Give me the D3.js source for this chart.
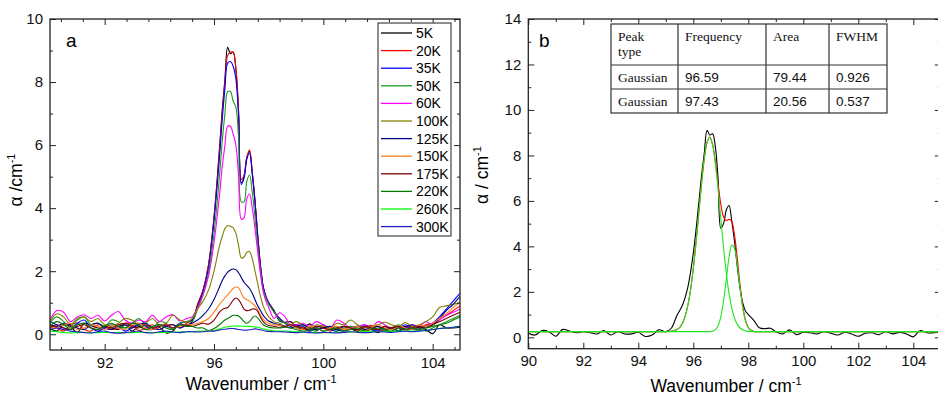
<!DOCTYPE html>
<html>
<head>
<meta charset="utf-8">
<script src="https://cdn.jsdelivr.net/npm/d3@7"></script>
<style>
	body { margin: 0; background: #fff; }
	text { font-family: "Liberation Sans", Arial, sans-serif; }
	.serif { font-family: "Liberation Serif", "Times New Roman", serif; }
</style>
</head>
<body>
<div class="graph"></div>
<script>

// shared wavenumber grid (cm-1) for the temperature series
const wavenumber = [90,90.25,90.5,90.75,91,91.25,91.5,91.75,92,92.25,92.5,92.75,93,93.25,93.5,93.75,94,94.25,94.5,94.75,95,
	95.2,95.4,95.6,95.8,96,96.2,96.3,96.4,96.5,96.6,96.7,96.8,96.9,97,97.1,97.2,97.3,97.4,97.5,97.6,97.7,97.8,97.9,98,98.2,
	98.4,98.6,98.8,99,99.25,99.5,99.75,100,100.25,100.5,100.75,101,101.25,101.5,101.75,102,102.25,102.5,102.75,103,103.25,103.5,103.75,104,104.25,104.5,104.75,105];

const alpha5K = [0.18,0.1,0.3,0.25,0.05,0.35,0.28,0.2,0.25,0.2,0.15,0.3,0.1,0.25,0.15,0.15,0.22,0.04,0.1,0.33,0.25,
	0.4,0.95,1.4,2.2,3.7,5.9,7.1,8.1,9.1,8.9,8.95,8.4,7.0,4.8,5.0,5.6,5.8,5.1,4.2,3.1,2.15,1.5,1.15,1.0,0.75,
	0.42,0.38,0.4,0.25,0.15,0.33,0.12,0.22,0.2,0.15,0.25,0.18,0.1,0.22,0.15,0.05,0.18,0.2,0.12,0.25,0.15,0.22,0.15,0.02,0.3,0.2,0.2,0.22];
const alpha20K = [0.3,0.2,0.1,0.3,0.35,0.15,0.1,0.3,0.25,0.15,0.2,0.35,0.3,0.12,0.2,0.3,0.15,0.28,0.3,0.2,0.35,
	0.45,0.9,1.4,2.2,3.7,5.8,7.0,8.0,8.85,8.95,8.95,8.45,7.1,4.9,5.05,5.6,5.85,5.15,4.25,3.15,2.2,1.5,1.2,1.0,0.7,
	0.5,0.35,0.3,0.3,0.2,0.1,0.25,0.2,0.1,0.2,0.15,0.25,0.1,0.2,0.28,0.15,0.12,0.22,0.2,0.15,0.25,0.2,0.3,0.35,0.5,0.6,0.75,0.9];
const alpha35K = [0.4,0.3,0.2,0.15,0.35,0.45,0.2,0.1,0.2,0.3,0.25,0.1,0.2,0.35,0.25,0.15,0.3,0.25,0.2,0.35,0.4,
	0.45,0.85,1.35,2.1,3.6,5.6,6.8,7.8,8.6,8.65,8.5,8.1,6.9,4.75,4.95,5.55,5.75,5.1,4.2,3.1,2.15,1.5,1.2,1.0,0.7,
	0.5,0.35,0.25,0.3,0.25,0.1,0.2,0.3,0.15,0.1,0.25,0.2,0.15,0.3,0.2,0.1,0.25,0.15,0.2,0.3,0.2,0.15,0.25,0.35,0.55,0.8,1.05,1.3];
const alpha50K = [0.35,0.55,0.4,0.2,0.45,0.55,0.3,0.35,0.25,0.45,0.4,0.2,0.35,0.5,0.3,0.2,0.4,0.35,0.15,0.35,0.4,
	0.4,0.8,1.25,1.95,3.2,5.0,6.1,7.0,7.7,7.7,7.4,7.2,6.2,4.2,4.2,4.85,5.05,4.5,3.7,2.8,2.0,1.4,1.15,0.95,0.7,
	0.45,0.35,0.3,0.2,0.3,0.15,0.1,0.25,0.2,0.1,0.2,0.25,0.15,0.1,0.2,0.25,0.1,0.2,0.3,0.15,0.2,0.25,0.1,0.2,0.3,0.4,0.5,0.6];
const alpha60K = [0.45,0.75,0.7,0.4,0.55,0.62,0.5,0.6,0.42,0.6,0.72,0.45,0.35,0.45,0.4,0.6,0.4,0.55,0.62,0.42,0.5,
	0.55,0.85,1.25,1.85,2.9,4.4,5.3,6.0,6.6,6.6,6.35,6.0,5.0,3.65,3.7,4.3,4.45,4.0,3.35,2.6,1.9,1.35,1.05,0.85,0.5,
	0.68,0.55,0.3,0.3,0.35,0.25,0.4,0.3,0.2,0.45,0.35,0.2,0.25,0.3,0.2,0.4,0.3,0.15,0.25,0.2,0.3,0.25,0.4,0.3,0.45,0.6,0.7,0.8];
const alpha100K = [0.4,0.65,0.55,0.3,0.5,0.55,0.4,0.5,0.3,0.25,0.35,0.5,0.45,0.3,0.35,0.5,0.3,0.35,0.6,0.45,0.4,
	0.5,0.8,1.05,1.4,2.0,2.8,3.1,3.35,3.45,3.42,3.38,3.2,2.8,2.42,2.45,2.6,2.62,2.4,2.0,1.6,1.2,0.9,0.7,0.55,0.4,
	0.35,0.25,0.3,0.4,0.3,0.2,0.3,0.25,0.2,0.35,0.3,0.45,0.3,0.2,0.25,0.3,0.38,0.3,0.25,0.37,0.25,0.3,0.4,0.55,0.85,0.9,0.95,1.0];
const alpha125K = [0.3,0.25,0.35,0.3,0.2,0.15,0.3,0.35,0.2,0.15,0.25,0.3,0.2,0.3,0.35,0.2,0.15,0.25,0.3,0.2,0.3,
	0.35,0.45,0.6,0.8,1.1,1.5,1.7,1.85,1.97,2.04,2.07,2.05,1.95,1.8,1.65,1.55,1.45,1.3,1.1,0.9,0.75,0.6,0.5,0.42,0.35,
	0.3,0.25,0.2,0.25,0.3,0.2,0.15,0.2,0.25,0.15,0.1,0.2,0.25,0.15,0.2,0.25,0.15,0.2,0.1,0.2,0.3,0.2,0.25,0.3,0.5,0.75,0.95,1.2];
const alpha150K = [0.25,0.2,0.3,0.35,0.15,0.2,0.3,0.25,0.15,0.3,0.2,0.15,0.3,0.35,0.2,0.15,0.25,0.3,0.2,0.25,0.3,
	0.3,0.35,0.4,0.5,0.7,0.95,1.05,1.15,1.25,1.35,1.45,1.5,1.47,1.3,1.15,1.1,1.05,0.98,0.9,0.78,0.6,0.48,0.4,0.35,0.3,
	0.28,0.25,0.3,0.2,0.15,0.25,0.2,0.1,0.2,0.25,0.15,0.2,0.25,0.1,0.2,0.3,0.2,0.15,0.25,0.2,0.15,0.3,0.25,0.35,0.5,0.65,0.85,1.0];
const alpha175K = [0.2,0.3,0.2,0.15,0.25,0.3,0.2,0.15,0.25,0.2,0.3,0.35,0.25,0.2,0.3,0.2,0.25,0.3,0.2,0.3,0.28,
	0.25,0.3,0.35,0.32,0.45,0.7,0.78,0.82,0.85,0.95,1.08,1.15,1.1,0.95,0.8,0.75,0.76,0.8,0.8,0.72,0.55,0.4,0.32,0.28,0.25,
	0.22,0.25,0.3,0.25,0.2,0.15,0.25,0.2,0.15,0.2,0.25,0.2,0.15,0.25,0.2,0.15,0.25,0.2,0.25,0.15,0.2,0.25,0.2,0.3,0.4,0.5,0.6,0.7];
const alpha220K = [0.25,0.4,0.3,0.15,0.3,0.35,0.2,0.15,0.25,0.35,0.25,0.2,0.35,0.3,0.15,0.25,0.3,0.2,0.15,0.3,0.25,
	0.25,0.2,0.2,0.12,0.18,0.3,0.38,0.45,0.5,0.55,0.6,0.6,0.58,0.5,0.4,0.35,0.4,0.52,0.58,0.52,0.4,0.3,0.25,0.22,0.2,
	0.2,0.22,0.2,0.15,0.1,0.15,0.2,0.1,0.15,0.2,0.1,0.15,0.2,0.1,0.15,0.2,0.15,0.1,0.2,0.15,0.2,0.15,0.2,0.25,0.3,0.35,0.45,0.55];
const alpha260K = [0.1,0.08,0.05,0.04,0.05,0.06,0.05,0.05,0.06,0.05,0.06,0.05,0.05,0.06,0.06,0.05,0.05,0.06,0.07,0.07,0.08,
	0.08,0.09,0.1,0.11,0.12,0.17,0.2,0.22,0.24,0.25,0.26,0.26,0.26,0.26,0.25,0.25,0.25,0.24,0.23,0.22,0.2,0.17,0.15,0.13,0.11,
	0.1,0.1,0.09,0.08,0.07,0.06,0.05,0.05,0.05,0.06,0.06,0.07,0.07,0.08,0.08,0.08,0.09,0.09,0.1,0.1,0.1,0.12,0.12,0.15,0.18,0.2,0.22,0.25];
const alpha300K = [0.15,0.2,0.15,0.1,0.08,0.05,0.04,0.08,0.1,0.05,0.03,0.05,0.08,0.1,0.05,0.04,0.08,0.1,0.07,0.05,0.08,
	0.08,0.07,0.08,0.1,0.1,0.13,0.15,0.16,0.17,0.18,0.18,0.17,0.15,0.14,0.13,0.13,0.14,0.16,0.17,0.16,0.14,0.12,0.1,0.09,0.08,
	0.08,0.07,0.06,0.05,0.07,0.05,0.04,0.06,0.05,0.04,0.06,0.08,0.06,0.05,0.06,0.08,0.07,0.06,0.08,0.1,0.08,0.1,0.12,0.15,0.18,0.2,0.22,0.25];

const temperatures = ["5K","20K","35K","50K","60K","100K","125K","150K","175K","220K","260K","300K"];
const temperatureSeries = [alpha5K, alpha20K, alpha35K, alpha50K, alpha60K, alpha100K, alpha125K, alpha150K, alpha175K, alpha220K, alpha260K, alpha300K];

// fitted curves of panel b
const fitWavenumber = [90,94.5,95,95.1,95.2,95.3,95.4,95.5,95.6,95.7,95.8,95.9,96,96.1,96.2,96.3,96.4,96.5,96.6,96.7,96.8,96.9,
	97,97.1,97.2,97.3,97.4,97.5,97.6,97.7,97.8,97.9,98,98.1,98.2,98.3,98.4,98.9,105];
const fitTotal = [0.25,0.25,0.25,0.26,0.27,0.29,0.34,0.43,0.61,0.91,1.39,2.09,3.03,4.19,5.48,6.76,7.86,8.58,8.81,8.49,7.75,6.77,
	5.86,5.29,5.13,5.19,5.08,4.5,3.47,2.31,1.36,0.74,0.43,0.31,0.26,0.25,0.25,0.25,0.25];
const fitPeak1 = [0.25,0.25,0.25,0.26,0.27,0.29,0.34,0.43,0.61,0.91,1.39,2.09,3.03,4.19,5.48,6.76,7.86,8.58,8.8,8.47,7.66,6.52,
	5.22,3.94,2.82,1.93,1.28,0.84,0.57,0.41,0.33,0.28,0.26,0.26,0.25,0.25,0.25,0.25,0.25];
const fitPeak2 = [0.25,0.25,0.25,0.25,0.25,0.25,0.25,0.25,0.25,0.25,0.25,0.25,0.25,0.25,0.25,0.25,0.25,0.25,0.25,0.27,0.34,0.51,
	0.9,1.6,2.56,3.51,4.06,3.91,3.16,2.16,1.28,0.71,0.42,0.3,0.26,0.25,0.25,0.25,0.25];

// table of fit results
const tableHeader = [["Peak","type"],["Frequency"],["Area"],["FWHM"]];
const peakTypes = ["Gaussian","Gaussian"];
const peakFrequency = ["96.59","97.43"];
const peakArea = ["79.44","20.56"];
const peakFwhm = ["0.926","0.537"];

const lineColors = ["#000000","#ff0000","#0000ff","#1f9a1f","#ff00ff","#808000","#000080","#ff8020","#800000","#007a00","#00ff00","#2020c0"];

let svg = d3.select(".graph").append("svg")
	.attr("width", 938)
	.attr("height", 398);

let curve = d3.curveCatmullRom.alpha(0.5);

// frame, inward ticks on all four sides
function drawFrame(g, x, y, xMajor, xMinor, yMajor, yMinor){
	let [x0, x1] = x.range();
	let [y0, y1] = y.range();

	let addAxis = function(axis, tx, ty){
		let a = g.append("g")
			.attr("transform", "translate(" + tx + "," + ty + ")")
			.call(axis)
			.attr("font-size", 15)
			.attr("font-family", "Liberation Sans, Arial, sans-serif");
		a.select(".domain").remove();
		a.selectAll("line").attr("stroke", "#222").attr("stroke-width", 1);
		a.selectAll("text").attr("fill", "#111");
		return a;
	}

	addAxis(d3.axisBottom(x).tickValues(xMajor).tickSize(-6).tickPadding(7).tickFormat(d3.format("d")), 0, y0);
	addAxis(d3.axisBottom(x).tickValues(xMinor).tickSize(-3).tickFormat(""), 0, y0);
	addAxis(d3.axisTop(x).tickValues(xMajor).tickSize(-6).tickFormat(""), 0, y1);
	addAxis(d3.axisTop(x).tickValues(xMinor).tickSize(-3).tickFormat(""), 0, y1);
	addAxis(d3.axisLeft(y).tickValues(yMajor).tickSize(-6).tickPadding(7).tickFormat(d3.format("d")), x0, 0);
	addAxis(d3.axisLeft(y).tickValues(yMinor).tickSize(-3).tickFormat(""), x0, 0);
	addAxis(d3.axisRight(y).tickValues(yMajor).tickSize(-6).tickFormat(""), x1, 0);
	addAxis(d3.axisRight(y).tickValues(yMinor).tickSize(-3).tickFormat(""), x1, 0);

	g.append("rect")
		.attr("x", x0).attr("y", y1)
		.attr("width", x1 - x0).attr("height", y0 - y1)
		.attr("fill", "none")
		.attr("stroke", "#222")
		.attr("stroke-width", 1.3);
}

function addTitles(g, cx, by, lx, ly, yText){
	let t = g.append("text")
		.attr("x", cx).attr("y", by)
		.attr("text-anchor", "middle")
		.attr("font-size", 17.5);
	t.append("tspan").text("Wavenumber / cm");
	t.append("tspan").attr("dy", -7).attr("font-size", 11).text("-1");

	let v = g.append("text")
		.attr("transform", "translate(" + lx + "," + ly + ") rotate(-90)")
		.attr("text-anchor", "middle")
		.attr("font-size", 17.5);
	v.append("tspan").text(yText);
	v.append("tspan").attr("dy", -7).attr("font-size", 11).text("-1");
}

// ---------------- panel a ----------------
let xA = d3.scaleLinear().domain([90, 105]).range([50, 460]);
let yA = d3.scaleLinear().domain([-0.5, 10]).range([350, 19]);

let gA = svg.append("g");
gA.append("clipPath").attr("id", "clipA")
	.append("rect").attr("x", 50).attr("y", 19).attr("width", 410).attr("height", 331);

let lineA = d3.line()
	.x(function(d, i){ return xA(wavenumber[i]); })
	.y(function(d){ return yA(d); })
	.curve(curve);

gA.append("g").attr("clip-path", "url(#clipA)")
	.selectAll("path")
	.data(temperatureSeries)
	.enter().append("path")
	.attr("d", lineA)
	.attr("fill", "none")
	.attr("stroke", function(d, i){ return lineColors[i]; })
	.attr("stroke-width", 1.1);

let minorA = d3.range(0, 19).map(function(k){ return 90.4 + 0.8 * k; }).filter(function(v, k){ return k % 5 !== 2; });
drawFrame(gA, xA, yA, [92, 96, 100, 104], minorA, [0, 2, 4, 6, 8, 10], [1, 3, 5, 7, 9]);
addTitles(gA, 261, 390, 22, 180, "\u03b1 /cm");

gA.append("text").attr("x", 66).attr("y", 47).attr("font-size", 19).text("a");

// legend
let legend = gA.append("g").attr("transform", "translate(378,23)");
legend.append("rect")
	.attr("width", 73).attr("height", 213)
	.attr("fill", "#fff")
	.attr("stroke", "#444")
	.attr("stroke-width", 1.2);
let items = legend.selectAll(".item")
	.data(temperatures)
	.enter().append("g")
	.attr("class", "item")
	.attr("transform", function(d, i){ return "translate(0," + (10 + i * 17.6) + ")"; });
items.append("line")
	.attr("x1", 3).attr("x2", 34)
	.attr("stroke", function(d, i){ return lineColors[i]; })
	.attr("stroke-width", 1.3);
items.append("text")
	.attr("x", 38).attr("dy", "0.35em")
	.attr("font-size", 14)
	.text(String);

// ---------------- panel b ----------------
let xB = d3.scaleLinear().domain([90, 105]).range([528.3, 940.8]);
let yB = d3.scaleLinear().domain([-0.5, 14]).range([348.7, 19]);

let gB = svg.append("g");
gB.append("clipPath").attr("id", "clipB")
	.append("rect").attr("x", 528.3).attr("y", 19).attr("width", 412.5).attr("height", 329.7);

let plotB = gB.append("g").attr("clip-path", "url(#clipB)");

plotB.append("path")
	.attr("d", d3.line()
		.x(function(d, i){ return xB(wavenumber[i]); })
		.y(function(d){ return yB(d); })
		.curve(curve)(alpha5K))
	.attr("fill", "none").attr("stroke", "#000").attr("stroke-width", 1.1);

let fitLine = d3.line()
	.x(function(d, i){ return xB(fitWavenumber[i]); })
	.y(function(d){ return yB(d); })
	.curve(curve);

plotB.append("path").attr("d", fitLine(fitTotal))
	.attr("fill", "none").attr("stroke", "#ff0000").attr("stroke-width", 1.1);
plotB.selectAll(".peak")
	.data([fitPeak1, fitPeak2])
	.enter().append("path")
	.attr("class", "peak")
	.attr("d", fitLine)
	.attr("fill", "none").attr("stroke", "#1ee61e").attr("stroke-width", 1.1);

drawFrame(gB, xB, yB, d3.range(90, 106, 2), d3.range(91, 106, 2), d3.range(0, 15, 2), d3.range(1, 14, 2));
addTitles(gB, 726, 392, 488, 175, "\u03b1 / cm");

gB.append("text").attr("x", 539).attr("y", 47).attr("font-size", 19).text("b");

// results table
let colX = [611, 678, 766, 829, 887];
let rowY = [24, 65, 89, 113];
let table = gB.append("g");
table.append("rect")
	.attr("x", colX[0]).attr("y", rowY[0])
	.attr("width", colX[4] - colX[0]).attr("height", rowY[3] - rowY[0])
	.attr("fill", "#fff").attr("stroke", "#333").attr("stroke-width", 1.2);
colX.slice(1, 4).forEach(function(cx){
	table.append("line").attr("x1", cx).attr("x2", cx).attr("y1", rowY[0]).attr("y2", rowY[3])
		.attr("stroke", "#333").attr("stroke-width", 1.2);
});
rowY.slice(1, 3).forEach(function(ry){
	table.append("line").attr("x1", colX[0]).attr("x2", colX[4]).attr("y1", ry).attr("y2", ry)
		.attr("stroke", "#333").attr("stroke-width", 1.2);
});

tableHeader.forEach(function(lines, c){
	lines.forEach(function(s, k){
		table.append("text").attr("class", "serif")
			.attr("x", colX[c] + 7).attr("y", 41 + k * 15)
			.attr("font-size", 13.5).attr("fill", "#111")
			.text(s);
	});
});

peakTypes.forEach(function(type, r){
	let by = [82, 106][r];
	table.append("text").attr("class", "serif")
		.attr("x", colX[0] + 7).attr("y", by).attr("font-size", 13.5).attr("fill", "#111").text(type);
	[peakFrequency[r], peakArea[r], peakFwhm[r]].forEach(function(v, c){
		table.append("text")
			.attr("x", colX[c + 1] + 7).attr("y", by).attr("font-size", 13.5).attr("fill", "#111").text(v);
	});
});

</script>
</body>
</html>
